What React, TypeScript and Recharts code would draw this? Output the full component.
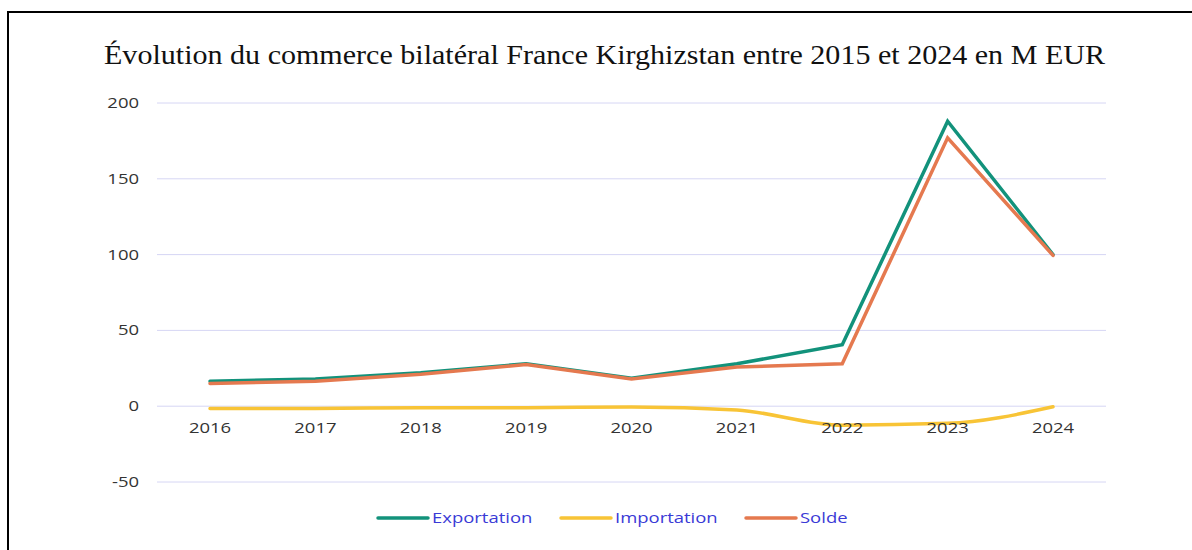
import React from "react";
import { LineChart, Line, XAxis, YAxis, CartesianGrid, Legend } from "recharts";

const years = ["2016", "2017", "2018", "2019", "2020", "2021", "2022", "2023", "2024"];
const exportation = [16.5, 18, 22, 28, 18.5, 28, 40.5, 188, 100];
const importation = [-1.5, -1.5, -1, -1, -0.5, -2.5, -12.5, -11.3, -0.4];
const solde = [15, 16.5, 21, 27.5, 18, 25.8, 28, 177, 99.5];
const yTicks = [-50, 0, 50, 100, 150, 200];

const TITLE = "Évolution du commerce bilatéral France Kirghizstan entre 2015 et 2024 en M EUR";

const data = years.map((y, i) => ({
  year: y,
  Exportation: exportation[i],
  Importation: importation[i],
  Solde: solde[i],
}));

const SX = 1.32;
const TICK_FONT = "'Open Sans', 'DejaVu Sans', sans-serif";
const X_LABEL_BASELINE = 433;

const XTick = (props: any) => {
  const { x, payload } = props;
  return (
    <text
      transform={`translate(${x},${X_LABEL_BASELINE}) scale(${SX},1)`}
      textAnchor="middle"
      fontFamily={TICK_FONT}
      fontSize={14}
      fill="#333"
    >
      {payload.value}
    </text>
  );
};

const YTick = (props: any) => {
  const { x, y, payload } = props;
  return (
    <text
      transform={`translate(${x},${y + 5}) scale(${SX},1)`}
      textAnchor="end"
      fontFamily={TICK_FONT}
      fontSize={14}
      fill="#333"
    >
      {payload.value}
    </text>
  );
};

const LEGEND_X = [378, 561, 746];

const LegendContent = (props: any) => {
  const { payload } = props;
  return (
    <svg width={1192} height={30} style={{ display: "block" }}>
      {(payload || []).map((p: any, i: number) => (
        <g key={p.value}>
          <line
            x1={LEGEND_X[i]}
            x2={LEGEND_X[i] + 50}
            y1={13}
            y2={13}
            stroke={p.color}
            strokeWidth={3.5}
            strokeLinecap="round"
          />
          <text
            transform={`translate(${LEGEND_X[i] + 54},${18}) scale(${SX},1)`}
            fontFamily={TICK_FONT}
            fontSize={14}
            fill="#3a3ad6"
          >
            {p.value}
          </text>
        </g>
      ))}
    </svg>
  );
};

export default function App() {
  return (
    <div
      style={{
        position: "absolute",
        left: 0,
        top: 0,
        width: 1192,
        height: 550,
        overflow: "hidden",
        background: "#fff",
      }}
    >
      <div
        style={{
          position: "absolute",
          left: 7,
          top: 11,
          width: 2000,
          height: 2000,
          borderLeft: "2px solid #000",
          borderTop: "2px solid #000",
        }}
      />
      <svg
        width={1192}
        height={80}
        style={{ position: "absolute", left: 0, top: 0 }}
      >
        <text
          x={104}
          y={64}
          textLength={1001}
          lengthAdjust="spacingAndGlyphs"
          fontFamily="'Liberation Serif', 'DejaVu Serif', serif"
          fontSize={27.5}
          fill="#111"
        >
          {TITLE}
        </text>
      </svg>
      <div style={{ position: "absolute", left: 0, top: 0 }}>
        <LineChart
          width={1192}
          height={550}
          data={data}
          margin={{ top: 103, right: 86, bottom: 38, left: 0 }}
        >
          <CartesianGrid vertical={false} stroke="#d6d6f4" strokeWidth={1} />
          <XAxis
            dataKey="year"
            height={30}
            axisLine={false}
            tickLine={false}
            tick={<XTick />}
            interval={0}
            padding={{ left: 53, right: 53 }}
          />
          <YAxis
            width={157}
            domain={[-50, 200]}
            ticks={yTicks}
            axisLine={false}
            tickLine={false}
            tickSize={0}
            tickMargin={18}
            tick={<YTick />}
            interval={0}
          />
          <Legend
            layout="horizontal"
            verticalAlign="middle"
            align="center"
            content={<LegendContent />}
            wrapperStyle={{ position: "absolute", top: 505, left: 0, width: 1192 }}
          />
          <Line
            type="linear"
            dataKey="Exportation"
            stroke="#12927b"
            strokeWidth={3.5}
            dot={false}
            activeDot={false}
            strokeLinecap="round"
            isAnimationActive={false}
          />
          <Line
            type="monotone"
            dataKey="Importation"
            stroke="#f8c436"
            strokeWidth={3.5}
            dot={false}
            activeDot={false}
            strokeLinecap="round"
            isAnimationActive={false}
          />
          <Line
            type="linear"
            dataKey="Solde"
            stroke="#e5794f"
            strokeWidth={3.5}
            dot={false}
            activeDot={false}
            strokeLinecap="round"
            isAnimationActive={false}
          />
        </LineChart>
      </div>
    </div>
  );
}
